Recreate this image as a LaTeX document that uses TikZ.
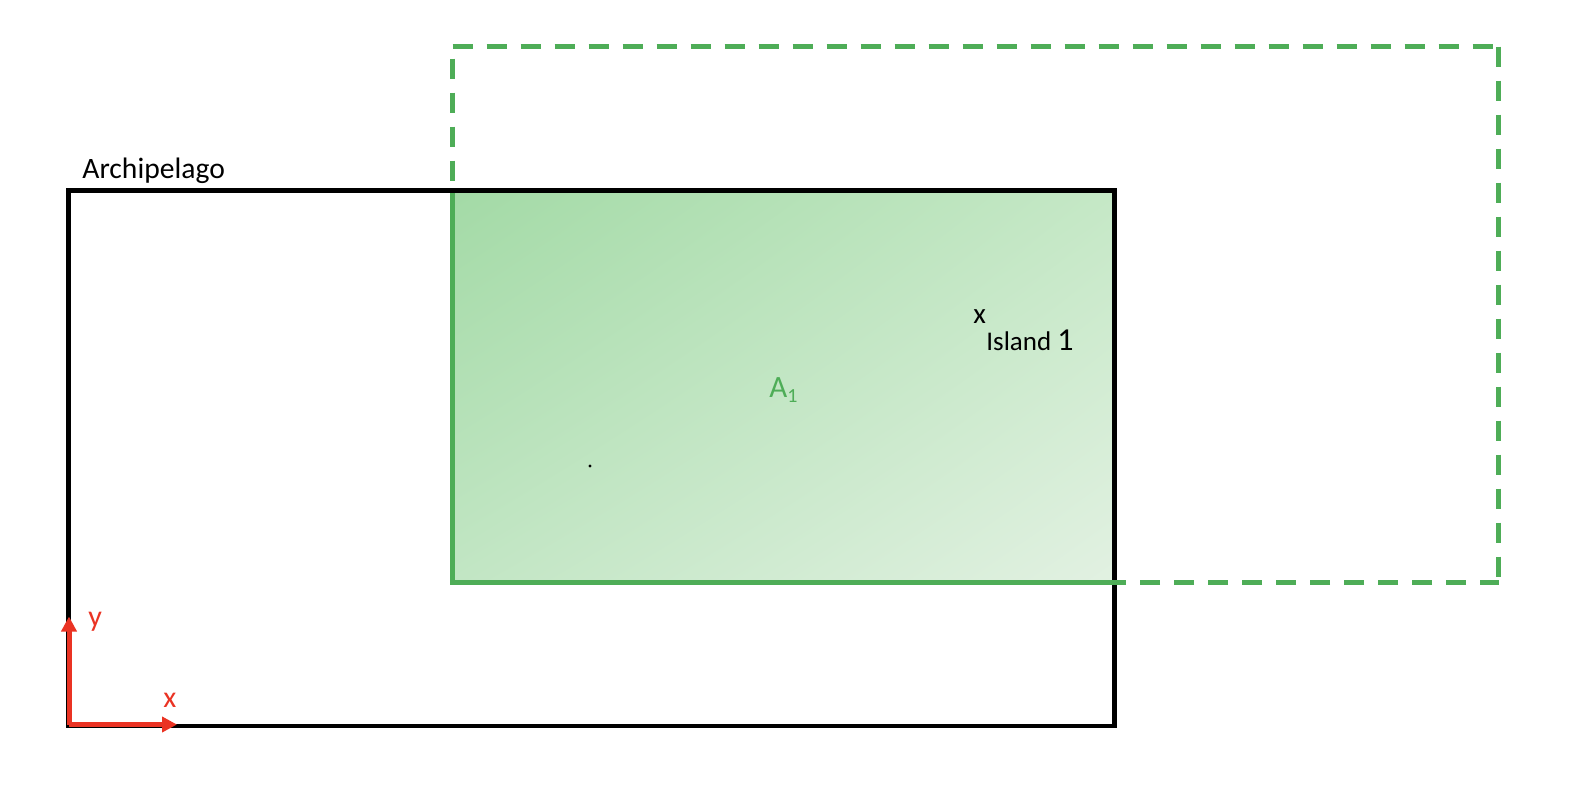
\documentclass[tikz,border=0pt]{standalone}
\usepackage{fontspec}
\setmainfont{Carlito}
\usetikzlibrary{arrows.meta,shadings}
\definecolor{areagreen}{RGB}{78,173,87}
\definecolor{axisred}{RGB}{234,51,35}
\definecolor{shadeul}{RGB}{163,218,166}
\definecolor{shadeur}{RGB}{197,232,198}
\definecolor{shadell}{RGB}{194,230,196}
\definecolor{shadelr}{RGB}{226,241,226}

\begin{document}
\begin{tikzpicture}[x=0.5pt,y=-0.5pt,
  frame/.style={line width=2.4pt, line join=miter},
  greenframe/.style={frame, color=areagreen},
  dashframe/.style={greenframe, dash pattern=on 10pt off 7pt},
  axis/.style={line width=2.5pt, color=axisred, -{Triangle[length=7.5pt,width=7.5pt]}},
  txt/.style={inner sep=0pt, anchor=base west}]
\useasboundingbox (0,0) rectangle (1584,798);
% corners of the archipelago and of the shifted box
\coordinate (arch sw) at (68.5,726);
\coordinate (arch ne) at (1114.5,190.5);
\coordinate (box nw) at (452.5,46.5);
\coordinate (box ne) at (1498.5,46.5);
\coordinate (box se) at (1498.5,582.5);
\coordinate (box sw) at (452.5,582.5);
\coordinate (overlap nw) at (452.5,190.5);
\coordinate (overlap top) at (452.5,193);
\coordinate (overlap se) at (1114.5,582.5);
% overlap A_1
\shade[upper left=shadeul, upper right=shadeur, lower left=shadell, lower right=shadelr]
  (overlap nw) rectangle (overlap se);
\draw[dashframe, dash phase=11pt] (box nw) -- (box sw);
\draw[frame] (arch sw) rectangle (arch ne);
\draw[greenframe] (overlap top) -- (box sw) -- (overlap se);
\draw[dashframe] (box nw) -- (box ne);
\draw[dashframe] (box ne) -- (box se);
\draw[dashframe, dash phase=0.75pt] (box se) -- (box sw);
% axes
\coordinate (origin) at (69,724.5);
\coordinate (x tip) at (177,724.5);
\coordinate (y tip) at (69,616.5);
\draw[axis] (origin) -- (x tip);
\draw[axis] (origin) -- (y tip);
\node[txt, text=axisred, font=\fontsize{15}{18}\selectfont] (x label) at (163,707) {x};
\node[txt, text=axisred, font=\fontsize{15}{18}\selectfont] (y label) at (88,626) {y};
% labels
\node[txt, font=\fontsize{14.8}{17}\selectfont] (archipelago) at (82,178) {Archipelago};
\node[txt, font=\fontsize{14.5}{17}\selectfont] (island mark) at (973,323) {x};
\node[txt, font=\fontsize{13.5}{16}\selectfont] (island) at (986,350) {Island {\fontsize{16}{18}\selectfont 1}};
\node[txt, text=areagreen, font=\fontsize{15.5}{18}\selectfont] (area label) at (769,397)
  {A\raisebox{-2.5pt}{\fontsize{10}{12}\selectfont 1}};
\coordinate (centre dot) at (590,466);
\fill (centre dot) circle (0.8pt);
\end{tikzpicture}
\end{document}
